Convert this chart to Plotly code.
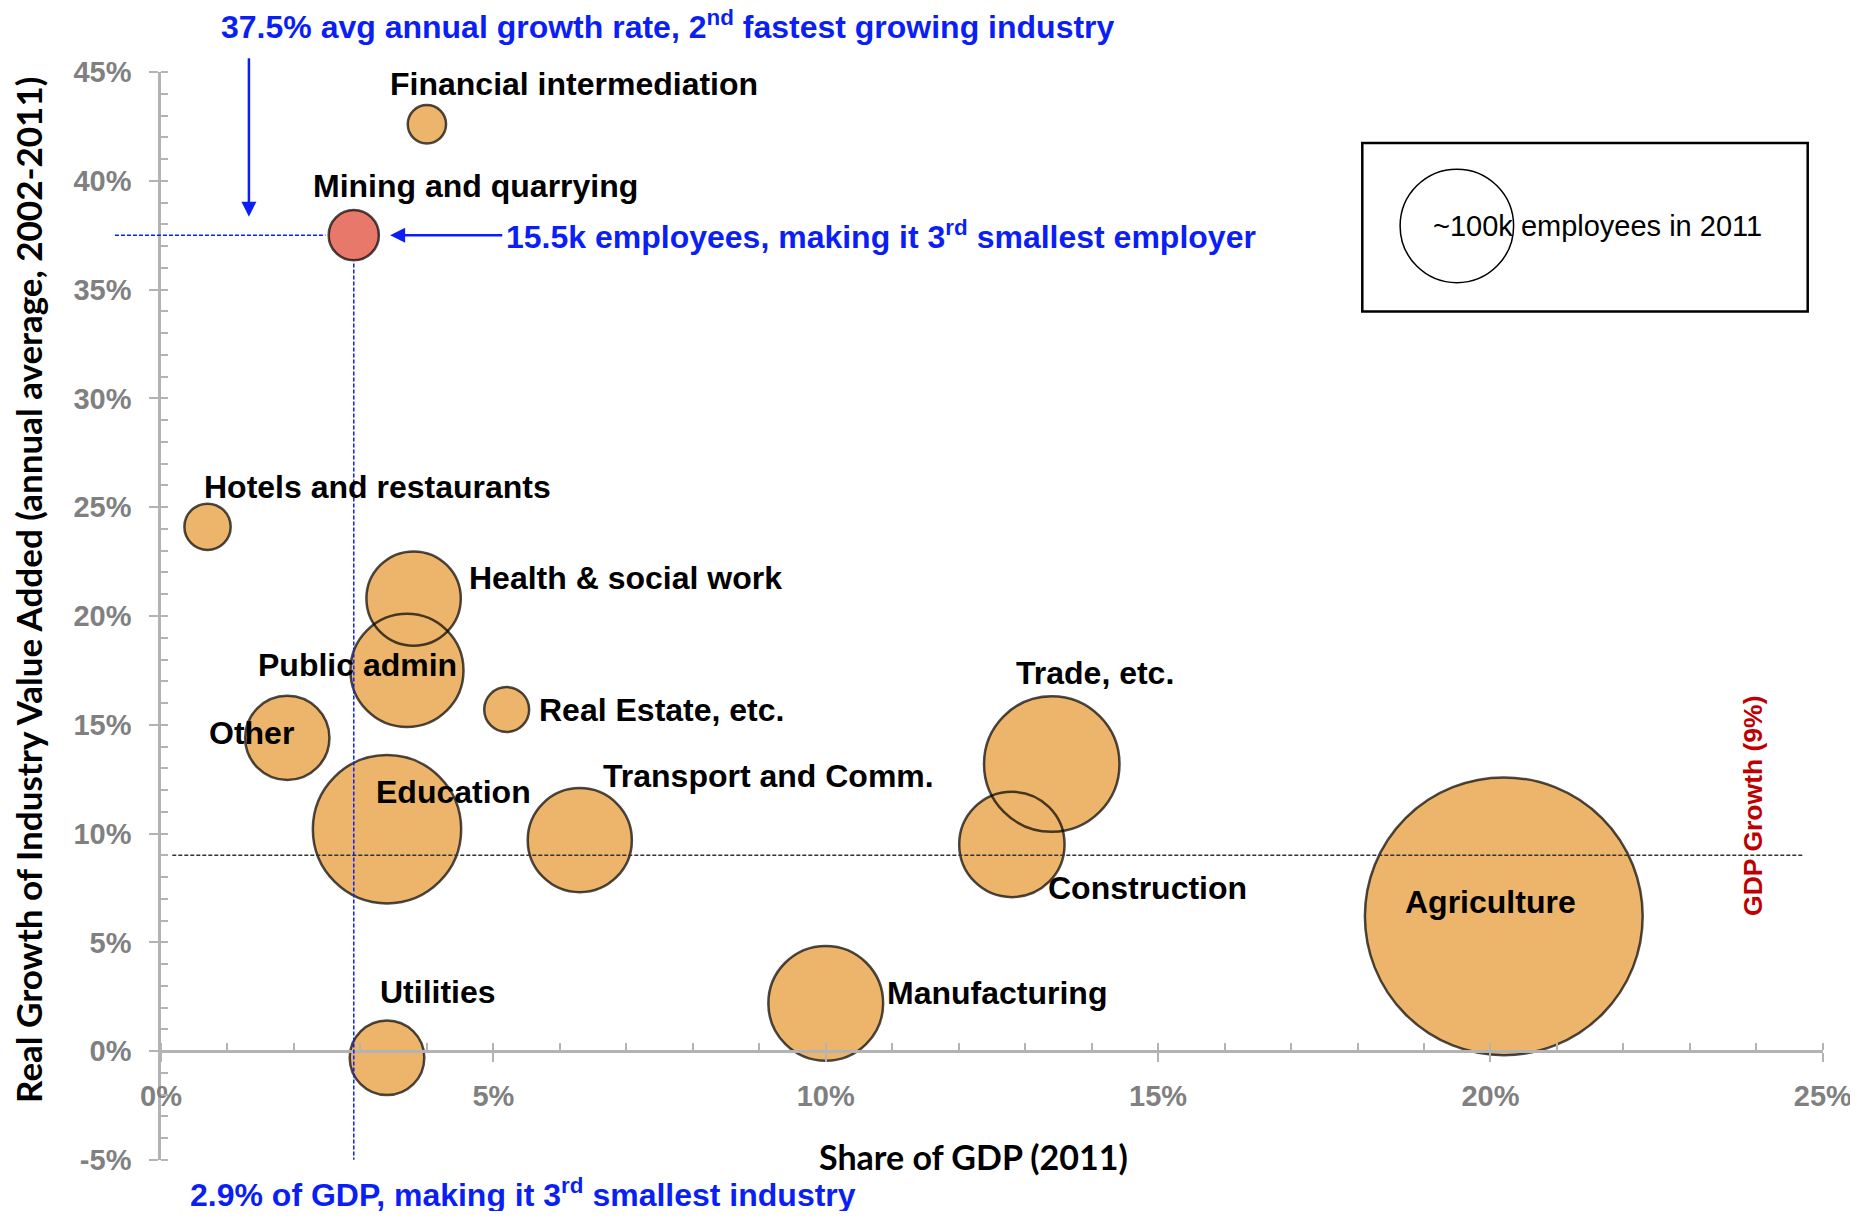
import plotly.graph_objects as go
import math

# ---------------- data ----------------
industries = ["Agriculture", "Manufacturing", "Trade, etc.", "Construction",
              "Transport and Comm.", "Education", "Public admin",
              "Health & social work", "Real Estate, etc.", "Other",
              "Hotels and restaurants", "Financial intermediation",
              "Mining and quarrying", "Utilities"]
gdp_share = [20.2, 10.0, 13.4, 12.8, 6.3, 3.4, 3.7, 3.8, 5.2, 1.9, 0.7, 4.0, 2.9, 3.4]
growth = [6.2, 2.2, 13.2, 9.5, 9.7, 10.2, 17.5, 20.8, 15.7, 14.4, 24.1, 42.6, 37.5, -0.3]
employees_k = [594, 104, 144, 88, 86, 172, 101, 71, 17, 57, 18, 12.6, 21, 45]

highlight = "Mining and quarrying"
gdp_growth = 9
legend_employees_k = 100

x_ticks = [0, 5, 10, 15, 20, 25]
y_ticks = [-5, 0, 5, 10, 15, 20, 25, 30, 35, 40, 45]
x_ticktext = [f"{v}%" for v in x_ticks]
y_ticktext = [f"{v}%" for v in y_ticks]

# ---------------- style ----------------
PAD = 8                      # browser body margin
W, H = 1858 - 2 * PAD, 1219 - 2 * PAD
ML, MR, MT, MB = 161 - PAD, 34.5 - PAD, 72.3 - PAD, 59 - PAD
R_REF = 57.5          # outer radius (px) of the legend key bubble
LINE_W = 2.5
FILL = "#ECB56B"
FILL_HI = "#E8786A"
BLUE = "#0B1FF5"
BOLD = "Liberation Sans"
TITLE_FONT = "Lato"

label_offsets = {  # (xshift, yshift) in px relative to bubble centre
    "Agriculture": (-13, 14),
    "Manufacturing": (171, 10),
    "Trade, etc.": (43, 91),
    "Construction": (136, -44),
    "Transport and Comm.": (189, 64),
    "Education": (66, 37),
    "Public admin": (-49, 5),
    "Health & social work": (212, 21),
    "Real Estate, etc.": (155, 0),
    "Other": (-36, 5),
    "Hotels and restaurants": (170, 40),
    "Financial intermediation": (147, 40),
    "Mining and quarrying": (122, 49),
    "Utilities": (51, 66),
}

def outer_radius(emp):
    return R_REF * math.sqrt(emp / legend_employees_k)

diam = [2 * outer_radius(e) - LINE_W for e in employees_k]
fills = [FILL_HI if n == highlight else FILL for n in industries]

fig = go.Figure()
fig.add_trace(go.Scatter(
    x=gdp_share, y=growth, mode="markers",
    marker=dict(size=diam, sizemode="diameter", color=fills, opacity=1,
                line=dict(width=0)),
    hoverinfo="text", text=industries, showlegend=False, cliponaxis=False))
fig.add_trace(go.Scatter(
    x=gdp_share, y=growth, mode="markers",
    marker=dict(size=diam, sizemode="diameter", color="rgba(0,0,0,0)",
                line=dict(width=LINE_W, color="black")),
    hoverinfo="skip", showlegend=False, cliponaxis=False))

annotations = []
for n, xv, yv in zip(industries, gdp_share, growth):
    dx, dy = label_offsets[n]
    annotations.append(dict(x=xv, y=yv, xref="x", yref="y", text=n, showarrow=False,
                            xshift=dx, yshift=dy, xanchor="center", yanchor="middle",
                            font=dict(family=BOLD, size=32, color="black", weight="bold")))

hi = industries.index(highlight)
hx, hy = gdp_share[hi], growth[hi]
hr = outer_radius(employees_k[hi])

x_min, x_max = x_ticks[0], x_ticks[-1]
y_min, y_max = y_ticks[0], y_ticks[-1]
plot_w = W - ML - MR
plot_h = H - MT - MB
hx_frac = (hx - x_min) / (x_max - x_min)

# axis titles
annotations.append(dict(x=0.489, y=0.003, xref="paper", yref="paper",
                        text="Share of GDP (2011)", showarrow=False,
                        xanchor="center", yanchor="middle",
                        font=dict(family=TITLE_FONT, size=34, color="black", weight="bold")))
annotations.append(dict(x=-0.080, y=0.524, xref="paper", yref="paper",
                        text="Real Growth of Industry Value Added (annual average, 2002-2011)",
                        textangle=-90, showarrow=False, xanchor="center", yanchor="middle",
                        font=dict(family=TITLE_FONT, size=35, color="black", weight="bold")))

# blue annotation texts
annotations.append(dict(x=0.0349, y=1.043, xref="paper", yref="paper",
                        text=f"{hy}% avg annual growth rate, 2<sup>nd</sup> fastest growing industry",
                        showarrow=False, xanchor="left", yanchor="middle",
                        font=dict(family=BOLD, size=32, color=BLUE, weight="bold")))
annotations.append(dict(x=hx, y=hy, xref="x", yref="y",
                        text="15.5k employees, making it 3<sup>rd</sup> smallest employer",
                        showarrow=False, xanchor="left", yanchor="middle", xshift=150,
                        font=dict(family=BOLD, size=32, color=BLUE, weight="bold")))
annotations.append(dict(x=0.0162, y=-0.0303, xref="paper", yref="paper",
                        text=f"{hx}% of GDP, making it 3<sup>rd</sup> smallest industry",
                        showarrow=False, xanchor="left", yanchor="middle",
                        font=dict(family=BOLD, size=32, color=BLUE, weight="bold")))
# blue arrows
annotations.append(dict(x=0.0529, y=0.867, xref="paper", yref="paper", text="",
                        showarrow=True, ax=0, ay=-160, arrowhead=2, arrowsize=1.2,
                        arrowwidth=2.5, arrowcolor=BLUE))
annotations.append(dict(x=hx, y=hy, xref="x", yref="y", text="",
                        showarrow=True, ax=150, ay=0, standoff=hr + 10, arrowhead=2,
                        arrowsize=1.2, arrowwidth=2.5, arrowcolor=BLUE))
# GDP growth label
annotations.append(dict(x=0.9582, y=gdp_growth, xref="paper", yref="y",
                        text=f"GDP Growth ({gdp_growth}%)", textangle=-90,
                        showarrow=False, yshift=49, xanchor="center", yanchor="middle",
                        font=dict(family=BOLD, size=26.5, color="#C00000", weight="bold")))
# legend text
annotations.append(dict(x=0.7643, y=0.8587, xref="paper", yref="paper",
                        text=f"~{legend_employees_k}k employees in 2011", showarrow=False,
                        xanchor="left", yanchor="middle",
                        font=dict(family="Liberation Sans", size=29, color="black")))

shapes = [
    # GDP growth reference line
    dict(type="line", xref="x", yref="y", x0=0.17, x1=24.7, y0=gdp_growth, y1=gdp_growth,
         line=dict(color="#333333", width=1.5, dash="4px,2px"), layer="above"),
    # blue horizontal dashed guide
    dict(type="line", xref="paper", yref="y", xsizemode="pixel",
         xanchor=hx_frac, x0=-(46 + hx_frac * plot_w), x1=-(hr + 2), y0=hy, y1=hy,
         line=dict(color=BLUE, width=1.5, dash="4px,2px"), layer="above"),
    # blue vertical dashed guide
    dict(type="line", xref="x", yref="y", ysizemode="pixel", yanchor=hy,
         x0=hx, x1=hx, y0=-(hr + 2), y1=-((hy - y_min) / (y_max - y_min) * plot_h),
         line=dict(color=BLUE, width=1.5, dash="4px,2px"), layer="above"),
    # legend box
    dict(type="rect", xref="paper", yref="paper", x0=0.7228, x1=0.9908, y0=0.7799, y1=0.9347,
         line=dict(color="black", width=2.5), fillcolor="rgba(0,0,0,0)"),
    # legend bubble
    dict(type="circle", xref="paper", yref="paper", xsizemode="pixel", ysizemode="pixel",
         xanchor=0.7797, yanchor=0.8585,
         x0=-(R_REF - 0.75), x1=R_REF - 0.75, y0=-(R_REF - 0.75), y1=R_REF - 0.75,
         line=dict(color="black", width=1.5), fillcolor="rgba(0,0,0,0)"),
]

axis_common = dict(
    showline=True, linecolor="#b3b3b3", linewidth=2.5, showgrid=False, zeroline=False,
    ticks="outside", ticklen=9, tickwidth=2, tickcolor="#b3b3b3",
    ticklabeloverflow="allow",
    tickfont=dict(family=BOLD, size=29, color="#808080", weight="bold"),
    minor=dict(ticks="inside", ticklen=7, tickwidth=1.5, tickcolor="#b3b3b3", dtick=1, showgrid=False),
)

fig.update_layout(
    width=W, height=H,
    margin=dict(l=ML, r=MR, t=MT, b=MB, autoexpand=False),
    paper_bgcolor="white", plot_bgcolor="white",
    xaxis=dict(range=[x_min, x_max + 0.002], tickmode="array", tickvals=x_ticks, ticktext=x_ticktext,
               anchor="free", position=(0 - y_min) / (y_max - y_min), ticklabelstandoff=9,
               **axis_common),
    yaxis=dict(range=[y_min, y_max], tickmode="array", tickvals=y_ticks, ticktext=y_ticktext,
               ticklabelstandoff=12, **axis_common),
    annotations=annotations, shapes=shapes,
)

fig.write_html("out.html")
